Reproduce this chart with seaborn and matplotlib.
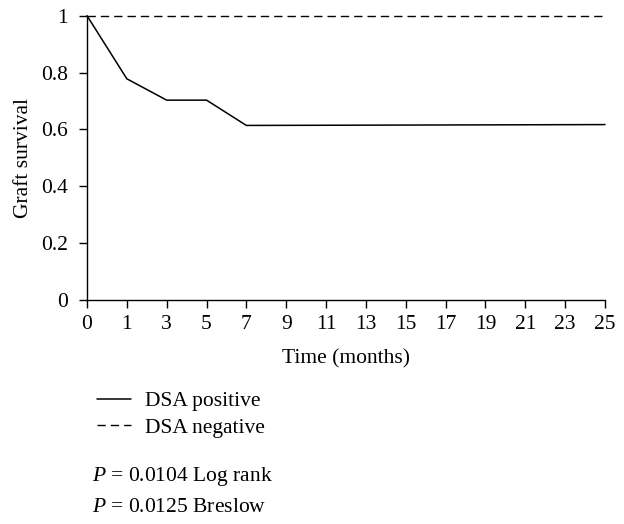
import matplotlib
matplotlib.use("Agg")
import matplotlib.pyplot as plt
import seaborn as sns
import pandas as pd

# Data
tick_months = [0, 1, 3, 5, 7, 9, 11, 13, 15, 17, 19, 21, 23, 25]
pos_months = [0, 1, 3, 5, 7, 25]
pos_survival = [1.0, 0.778, 0.703, 0.703, 0.614, 0.617]
neg_months = [0, 25]
neg_survival = [1.0, 1.0]
y_ticks = [0, 0.2, 0.4, 0.6, 0.8, 1]
y_tick_labels = ["0", "0.2", "0.4", "0.6", "0.8", "1"]
series_names = ["DSA positive", "DSA negative"]
pvalue_texts = ["0.0104 Log rank", "0.0125 Breslow"]

sns.set_theme(style="white")
plt.rcParams['font.family'] = ['Liberation Serif', 'DejaVu Serif']
plt.rcParams['mathtext.fontset'] = 'custom'
plt.rcParams['mathtext.it'] = 'Liberation Serif:italic'
plt.rcParams['mathtext.rm'] = 'Liberation Serif'

FS = 15.5

pos_index = {m: i for i, m in enumerate(tick_months)}
df_pos = pd.DataFrame({"x": [pos_index[m] for m in pos_months], "y": pos_survival})
df_neg = pd.DataFrame({"x": [pos_index[m] for m in neg_months], "y": neg_survival})

fig = plt.figure(figsize=(6.24, 5.24), dpi=100)
ax = fig.add_axes([87/624, 1 - 300/524, (605 - 87)/624, (300 - 15.7)/524])

sns.lineplot(data=df_pos, x="x", y="y", ax=ax, color="black", lw=1.1,
             label=series_names[0], clip_on=False, sort=False)
sns.lineplot(data=df_neg, x="x", y="y", ax=ax, color="black", lw=1.0,
             label=series_names[1], clip_on=False, sort=False)
ax.lines[1].set_dashes((6, 3.6))

ax.set_xlim(0, len(tick_months) - 1)
ax.set_ylim(0, 1)
ax.set_xticks(range(len(tick_months)))
ax.set_xticklabels([str(m) for m in tick_months])
ax.set_yticks(y_ticks)
ax.set_yticklabels(y_tick_labels)

for s in ["top", "right"]:
    ax.spines[s].set_visible(False)
for s in ["left", "bottom"]:
    ax.spines[s].set_color("black")
    ax.spines[s].set_linewidth(1.0)

ax.tick_params(axis="both", which="major", direction="out", length=5.5, width=1,
               color="black", labelsize=FS, labelcolor="black",
               bottom=True, left=True)
ax.tick_params(axis="y", pad=8)
ax.tick_params(axis="x", pad=5.5)
ax.set_xlabel("Time (months)", fontsize=FS, color="black", labelpad=11)
ax.set_ylabel("Graft survival", fontsize=FS, color="black", labelpad=6)

leg = ax.legend(loc="upper left", bbox_to_anchor=(97/624, 1 - 391/524),
                bbox_transform=fig.transFigure, frameon=False, fontsize=FS,
                handlelength=1.6, handletextpad=0.65, labelspacing=0.3,
                borderaxespad=0, borderpad=0)
for t in leg.get_texts():
    t.set_color("black")

fig.text(92/624, 1 - 477/524, r"$\it{P}$ = " + pvalue_texts[0], fontsize=FS,
         va="center", ha="left", color="black")
fig.text(92/624, 1 - 507/524, r"$\it{P}$ = " + pvalue_texts[1], fontsize=FS,
         va="center", ha="left", color="black")

fig.savefig("out.png", dpi=100)
